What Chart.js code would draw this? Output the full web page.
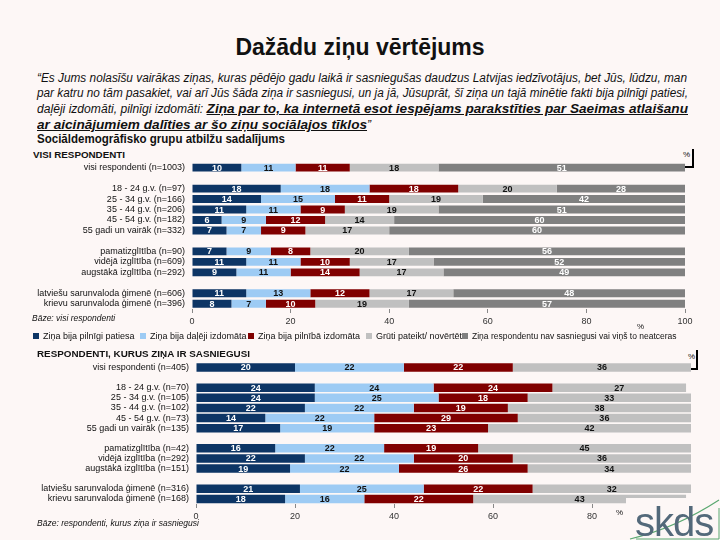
<!DOCTYPE html>
<html>
<head>
<meta charset="utf-8">
<script src="https://cdn.jsdelivr.net/npm/chart.js@4.4.1/dist/chart.umd.min.js"></script>
<style>
  body { margin: 0; width: 720px; height: 540px; overflow: hidden; position: relative;
         background: #fdf7f6; font-family: "Liberation Sans", Arial, sans-serif; color: #111; }
  .abs { position: absolute; white-space: nowrap; transform-origin: left center; }
  #title { left: 0; width: 720px; top: 34px; text-align: center; font-size: 23px; font-weight: bold; }
  .q { font-style: italic; font-size: 12px; left: 37px; }
  .q b { font-size: 13.5px; text-decoration: underline; }
  #sub { left: 37px; top: 132px; font-size: 12px; font-weight: bold; }
  .grp { font-size: 9px; font-weight: bold; }
  .src { font-size: 8.5px; font-style: italic; }
  .pct { font-size: 8px; }
  .leg { position: absolute; top: 331px; height: 11px; line-height: 11px; font-size: 9px; white-space: nowrap; }
  .leg i { display: inline-block; width: 6px; height: 6px; margin-right: 4px; }
  canvas { position: absolute; left: 0; }
  .line { position: absolute; background: #000; }
</style>
</head>
<body>
<div id="title" class="abs">Dažādu ziņu vērtējums</div>
<div class="abs q" style="top:71px" data-w="650">“Es Jums nolasīšu vairākas ziņas, kuras pēdējo gadu laikā ir sasniegušas daudzus Latvijas iedzīvotājus, bet Jūs, lūdzu, man</div>
<div class="abs q" style="top:86px" data-w="651">par katru no tām pasakiet, vai arī Jūs šāda ziņa ir sasniegusi, un ja jā, Jūsuprāt, šī ziņa un tajā minētie fakti bija pilnīgi patiesi,</div>
<div class="abs q" style="top:101px" data-w="651" id="q3">daļēji izdomāti, pilnīgi izdomāti: <b>Ziņa par to, ka internetā esot iespējams parakstīties par Saeimas atlaišanu</b></div>
<div class="abs q" style="top:117px" data-same="q3"><b>ar aicinājumiem dalīties ar šo ziņu sociālajos tīklos</b>”</div>
<div id="sub" class="abs" data-w="248">Sociāldemogrāfisko grupu atbilžu sadalījums</div>

<div class="abs grp" style="left:33px;top:150px" data-w="92">VISI RESPONDENTI</div>
<div class="abs pct" style="left:683px;top:150px">%</div>
<div class="line" style="left:692px;top:149px;width:2px;height:19px"></div>
<div class="line" style="left:682px;top:166px;width:12px;height:2px"></div>

<canvas id="top" width="720" height="180" style="top:150px"></canvas>
<div class="abs src" style="left:32px;top:313px">Bāze: visi respondenti</div>
<div class="abs pct" style="left:637px;top:322px">%</div>
<div id="legend"></div>

<div class="abs grp" style="left:37px;top:349px" data-w="213">RESPONDENTI, KURUS ZIŅA IR SASNIEGUSI</div>
<div class="abs pct" style="left:688px;top:352px">%</div>
<div class="line" style="left:696px;top:350px;width:2px;height:20px"></div>
<div class="line" style="left:687px;top:368px;width:11px;height:2px"></div>

<canvas id="bottom" width="720" height="177" style="top:350px"></canvas>
<div class="abs src" style="left:37px;top:518px" data-w="162">Bāze: respondenti, kurus ziņa ir sasniegusi</div>
<div class="abs pct" style="left:616px;top:508px">%</div>

<svg style="position:absolute;left:626px;top:498px" width="94" height="42">
  <rect x="0" y="0" width="94" height="42" fill="#fdf7f6"/>
  <path d="M4 41 Q50 30 93 2" stroke="#5aa870" stroke-width="1.2" fill="none"/>
  <path d="M10 41 L93 41 M93 41 L93 10" stroke="#5aa870" stroke-width="1" fill="none"/>
  <text x="9" y="38" font-family="Liberation Sans, Arial" font-size="40" fill="#53697a" letter-spacing="-1">skds</text>
</svg>

<script>
// categories
const topLabels = ['visi respondenti (n=1003)', '', '18 - 24 g.v. (n=97)', '25 - 34 g.v. (n=166)',
  '35 - 44 g.v. (n=206)', '45 - 54 g.v. (n=182)', '55 gadi un vairāk (n=332)', '',
  'pamatizglītība (n=90)', 'vidējā izglītība (n=609)', 'augstākā izglītība (n=292)', '',
  'latviešu sarunvaloda ģimenē (n=606)', 'krievu sarunvaloda ģimenē (n=396)'];
const bottomLabels = ['visi respondenti (n=405)', '', '18 - 24 g.v. (n=70)', '25 - 34 g.v. (n=105)',
  '35 - 44 g.v. (n=102)', '45 - 54 g.v. (n=73)', '55 gadi un vairāk (n=135)', '',
  'pamatizglītība (n=42)', 'vidējā izglītība (n=292)', 'augstākā izglītība (n=151)', '',
  'latviešu sarunvaloda ģimenē (n=316)', 'krievu sarunvaloda ģimenē (n=168)'];

const seriesNames = ['Ziņa bija pilnīgi patiesa', 'Ziņa bija daļēji izdomāta', 'Ziņa bija pilnībā izdomāta',
  'Grūti pateikt/ novērtēt', 'Ziņa respondentu nav sasniegusi vai viņš to neatceras'];
const colors = ['#0d3565', '#9dcbf4', '#800000', '#c0c0c0', '#808080'];
const labelColors = ['#fff', '#111', '#fff', '#111', '#fff'];

// all respondents, %
const topPatiesa = [10, null, 18, 14, 11, 6, 7, null, 7, 11, 9, null, 11, 8];
const topDaleji = [11, null, 18, 15, 11, 9, 7, null, 9, 11, 11, null, 13, 7];
const topIzdomata = [11, null, 18, 11, 9, 12, 9, null, 8, 10, 14, null, 12, 10];
const topGruti = [18, null, 20, 19, 19, 14, 17, null, 20, 17, 17, null, 17, 19];
const topNav = [51, null, 28, 42, 51, 60, 60, null, 56, 52, 49, null, 48, 57];

// respondents reached by the news, %
const botPatiesa = [20, null, 24, 24, 22, 14, 17, null, 16, 22, 19, null, 21, 18];
const botDaleji = [22, null, 24, 25, 22, 22, 19, null, 22, 22, 22, null, 25, 16];
const botIzdomata = [22, null, 24, 18, 19, 29, 23, null, 19, 20, 26, null, 22, 22];
const botGruti = [36, null, 27, 33, 38, 36, 42, null, 45, 36, 34, null, 32, 43];

const xTicks = [0, 20, 40, 60, 80, 100];

// fit text lines to the widths they have in the picture
function fit(el, w) {
  const k = w / el.getBoundingClientRect().width;
  el.dataset.k = k;
  el.style.transform = 'scaleX(' + k + ')';
}
document.querySelectorAll('[data-w]').forEach(el => fit(el, +el.dataset.w));
document.querySelectorAll('[data-same]').forEach(el => {
  el.style.transform = 'scaleX(' + document.getElementById(el.dataset.same).dataset.k + ')';
});

// legend
const legendX = [33, 140, 248, 366, 462];
const legendSize = [9, 9, 9, 9, 8.5];
const legend = document.getElementById('legend');
seriesNames.forEach((name, i) => {
  const d = document.createElement('div');
  d.className = 'leg';
  d.style.left = legendX[i] + 'px';
  d.style.fontSize = legendSize[i] + 'px';
  d.innerHTML = '<i style="background:' + colors[i] + '"></i>' + name;
  legend.appendChild(d);
});

const barLabels = {
  id: 'barLabels',
  afterDatasetsDraw(chart) {
    const ctx = chart.ctx;
    ctx.save();
    ctx.font = 'bold 9px "Liberation Sans", Arial';
    ctx.textAlign = 'center';
    ctx.textBaseline = 'middle';
    chart.data.datasets.forEach((ds, i) => {
      chart.getDatasetMeta(i).data.forEach((bar, j) => {
        const v = ds.data[j];
        if (v == null) return;
        const right = Math.min(bar.x, chart.chartArea.right);
        ctx.fillStyle = labelColors[i];
        ctx.fillText(v, (bar.base + right) / 2, bar.y + 0.5);
      });
    });
    ctx.restore();
  }
};

function makeChart(id, labels, series, yWidth, padRight, padTop, xHeight, barPct) {
  new Chart(document.getElementById(id), {
    type: 'bar',
    plugins: [barLabels],
    data: {
      labels: labels,
      datasets: series.map((data, i) => ({
        label: seriesNames[i],
        data: data,
        backgroundColor: colors[i],
        barPercentage: barPct,
        categoryPercentage: 1
      }))
    },
    options: {
      indexAxis: 'y',
      responsive: false,
      animation: false,
      layout: { padding: { top: padTop, right: padRight, left: 0, bottom: 0 } },
      plugins: { legend: { display: false }, tooltip: { enabled: false } },
      scales: {
        x: {
          stacked: true, min: 0, max: 100,
          afterBuildTicks: s => { s.ticks = xTicks.map(v => ({ value: v })); },
          afterFit: s => { s.height = xHeight; },
          ticks: { font: { size: 9, family: '"Liberation Sans", Arial' }, color: '#333', padding: 3 },
          grid: { drawOnChartArea: false, tickLength: 4, color: '#888' },
          border: { display: false }
        },
        y: {
          stacked: true,
          afterFit: s => { s.width = yWidth; },
          ticks: { font: { size: 9, family: '"Liberation Sans", Arial' }, color: '#111', padding: 7, autoSkip: false },
          grid: { display: false, drawTicks: false },
          border: { display: false }
        }
      }
    }
  });
}

makeChart('top', topLabels, [topPatiesa, topDaleji, topIzdomata, topGruti, topNav], 192, 35, 11, 21, 0.75);
makeChart('bottom', bottomLabels, [botPatiesa, botDaleji, botIzdomata, botGruti], 196, 29, 12, 23, 0.84);
</script>
</body>
</html>
